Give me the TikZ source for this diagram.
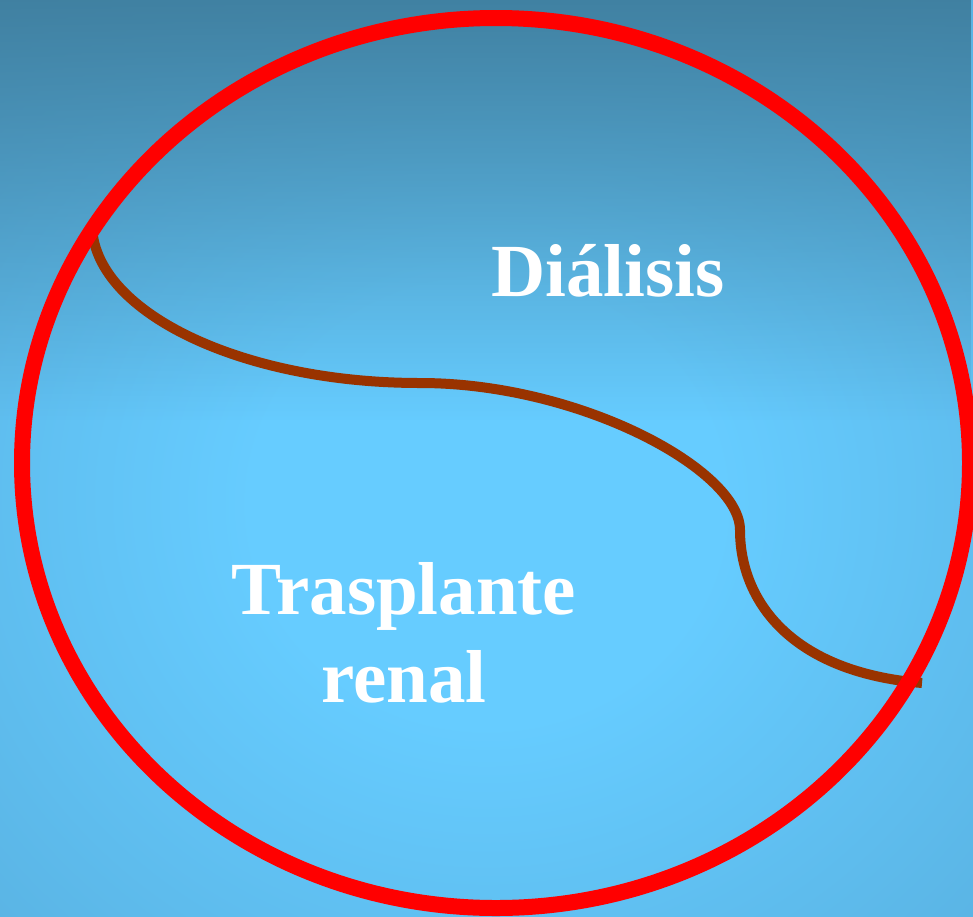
\documentclass[tikz,border=0pt]{standalone}
\usepackage{fontspec}
\setmainfont{Liberation Serif}
\usetikzlibrary{fadings}
\definecolor{bgcenter}{HTML}{66CCFF}
\definecolor{bgmid}{HTML}{5AB4E4}
\definecolor{bgedge}{HTML}{4E9FCB}
\definecolor{bgtop}{HTML}{3F7E9E}
\definecolor{ringred}{HTML}{FF0000}
\definecolor{splitbrown}{HTML}{993300}
\pgfdeclareradialshading{bgradial}{\pgfpoint{0bp}{-3bp}}{%
  color(0bp)=(bgcenter); color(12bp)=(bgcenter); color(35bp)=(bgmid);
  color(52bp)=(bgedge); color(75bp)=(bgedge)}
\tikzfading[name=fadetop, top color=transparent!0, bottom color=transparent!100]
\tikzset{
  ring/.style={draw=ringred, line width=16pt},
  divider/.style={draw=splitbrown, line width=10pt, line cap=butt},
  label/.style={text=white, inner sep=0pt, font=\bfseries\fontsize{75}{88}\selectfont}
}
\begin{document}
\begin{tikzpicture}[x=1pt,y=-1pt]
\useasboundingbox (0,0) rectangle (973,916);
\shade[shading=bgradial] (0,0) rectangle (973,916);
\fill[bgtop, path fading=fadetop, fill opacity=0.95] (0,0) rectangle (973,420);
% divider curve
\coordinate (dstart) at (92,224);
\coordinate (dmid1) at (420,383);
\coordinate (dmid2) at (740,530);
\coordinate (dend) at (922,683);
\draw[divider] (dstart) .. controls (92,311) and (240,383) .. (dmid1)
  .. controls (580,383) and (740,470) .. (dmid2)
  .. controls (740,600) and (790,672) .. (dend);
% ring
\draw[ring] (496,463) ellipse [x radius=474, y radius=445];
% labels
\node[label, anchor=base west] (dialisis) at (491,296) {Diálisis};
\node[label, anchor=base] (trasplante) at (404,614) {Trasplante};
\node[label, anchor=base] (renal) at (404,702) {renal};
\end{tikzpicture}
\end{document}
